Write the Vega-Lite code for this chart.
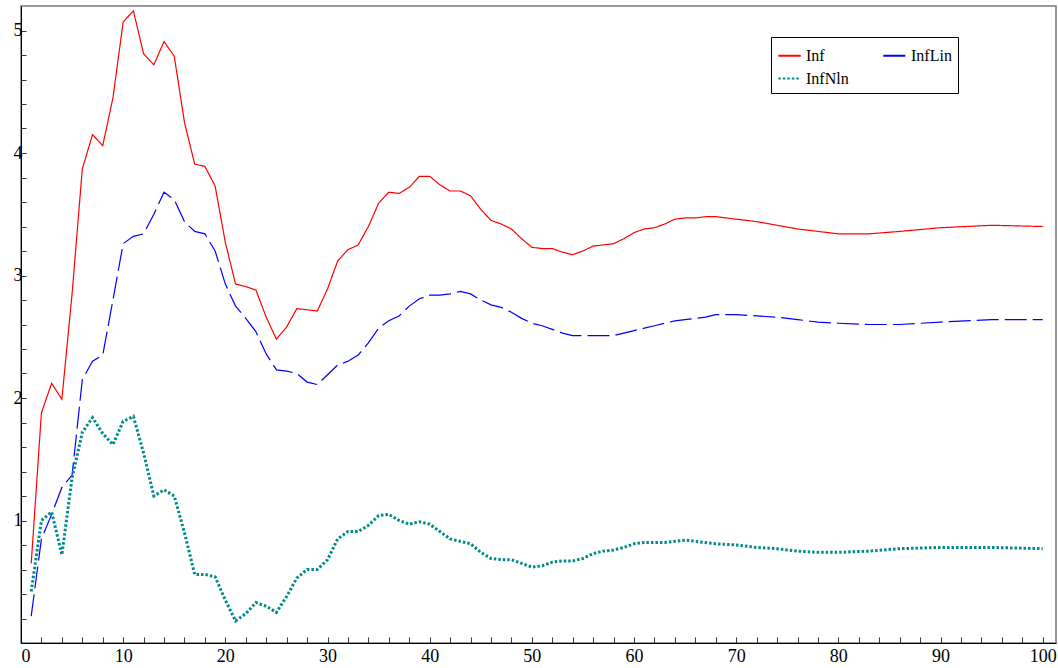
{
  "$schema": "https://vega.github.io/schema/vega-lite/v6.json",
  "width": 1035,
  "height": 637,
  "autosize": "none",
  "padding": {"left": 21, "top": 6, "right": 2, "bottom": 25},
  "background": "white",
  "config": {
    "view": {"stroke": "#777777", "strokeWidth": 1.5},
    "font": "Liberation Serif",
    "axis": {"grid": false, "domainColor": "black", "tickColor": "#333", "labelFont": "Liberation Serif", "labelFontSize": 18, "labelColor": "black", "title": null}
  },
  "data": {
    "values": [
      {"t":1,"Inf":0.65,"InfLin":0.22,"InfNln":0.42},
      {"t":2,"Inf":1.88,"InfLin":0.85,"InfNln":1.0},
      {"t":3,"Inf":2.12,"InfLin":1.05,"InfNln":1.07},
      {"t":4,"Inf":1.99,"InfLin":1.27,"InfNln":0.72},
      {"t":5,"Inf":2.85,"InfLin":1.37,"InfNln":1.35},
      {"t":6,"Inf":3.87,"InfLin":2.15,"InfNln":1.72},
      {"t":7,"Inf":4.15,"InfLin":2.3,"InfNln":1.84},
      {"t":8,"Inf":4.06,"InfLin":2.35,"InfNln":1.71},
      {"t":9,"Inf":4.45,"InfLin":2.8,"InfNln":1.62},
      {"t":10,"Inf":5.07,"InfLin":3.26,"InfNln":1.81},
      {"t":11,"Inf":5.16,"InfLin":3.32,"InfNln":1.85},
      {"t":12,"Inf":4.81,"InfLin":3.34,"InfNln":1.55},
      {"t":13,"Inf":4.72,"InfLin":3.5,"InfNln":1.2},
      {"t":14,"Inf":4.91,"InfLin":3.68,"InfNln":1.25},
      {"t":15,"Inf":4.79,"InfLin":3.62,"InfNln":1.2},
      {"t":16,"Inf":4.25,"InfLin":3.44,"InfNln":0.9},
      {"t":17,"Inf":3.91,"InfLin":3.36,"InfNln":0.56},
      {"t":18,"Inf":3.89,"InfLin":3.34,"InfNln":0.56},
      {"t":19,"Inf":3.73,"InfLin":3.2,"InfNln":0.54},
      {"t":20,"Inf":3.27,"InfLin":2.93,"InfNln":0.35},
      {"t":21,"Inf":2.93,"InfLin":2.75,"InfNln":0.18},
      {"t":22,"Inf":2.91,"InfLin":2.65,"InfNln":0.24},
      {"t":23,"Inf":2.88,"InfLin":2.54,"InfNln":0.33},
      {"t":24,"Inf":2.66,"InfLin":2.36,"InfNln":0.3},
      {"t":25,"Inf":2.48,"InfLin":2.23,"InfNln":0.25},
      {"t":26,"Inf":2.58,"InfLin":2.22,"InfNln":0.38},
      {"t":27,"Inf":2.73,"InfLin":2.2,"InfNln":0.53},
      {"t":28,"Inf":2.72,"InfLin":2.13,"InfNln":0.6},
      {"t":29,"Inf":2.71,"InfLin":2.11,"InfNln":0.6},
      {"t":30,"Inf":2.89,"InfLin":2.19,"InfNln":0.68},
      {"t":31,"Inf":3.12,"InfLin":2.27,"InfNln":0.85},
      {"t":32,"Inf":3.21,"InfLin":2.3,"InfNln":0.91},
      {"t":33,"Inf":3.25,"InfLin":2.35,"InfNln":0.91},
      {"t":34,"Inf":3.4,"InfLin":2.45,"InfNln":0.96},
      {"t":35,"Inf":3.59,"InfLin":2.57,"InfNln":1.04},
      {"t":36,"Inf":3.68,"InfLin":2.63,"InfNln":1.05},
      {"t":37,"Inf":3.67,"InfLin":2.67,"InfNln":1.0},
      {"t":38,"Inf":3.72,"InfLin":2.75,"InfNln":0.97},
      {"t":39,"Inf":3.81,"InfLin":2.81,"InfNln":0.99},
      {"t":40,"Inf":3.81,"InfLin":2.84,"InfNln":0.97},
      {"t":41,"Inf":3.74,"InfLin":2.84,"InfNln":0.91},
      {"t":42,"Inf":3.69,"InfLin":2.85,"InfNln":0.85},
      {"t":43,"Inf":3.69,"InfLin":2.87,"InfNln":0.83},
      {"t":44,"Inf":3.65,"InfLin":2.85,"InfNln":0.81},
      {"t":45,"Inf":3.54,"InfLin":2.8,"InfNln":0.74},
      {"t":46,"Inf":3.45,"InfLin":2.76,"InfNln":0.69},
      {"t":47,"Inf":3.42,"InfLin":2.74,"InfNln":0.68},
      {"t":48,"Inf":3.38,"InfLin":2.7,"InfNln":0.68},
      {"t":49,"Inf":3.3,"InfLin":2.65,"InfNln":0.65},
      {"t":50,"Inf":3.23,"InfLin":2.61,"InfNln":0.62},
      {"t":51,"Inf":3.22,"InfLin":2.59,"InfNln":0.63},
      {"t":52,"Inf":3.22,"InfLin":2.56,"InfNln":0.66},
      {"t":53,"Inf":3.19,"InfLin":2.53,"InfNln":0.67},
      {"t":54,"Inf":3.17,"InfLin":2.51,"InfNln":0.67},
      {"t":55,"Inf":3.2,"InfLin":2.51,"InfNln":0.69},
      {"t":56,"Inf":3.24,"InfLin":2.51,"InfNln":0.73},
      {"t":57,"Inf":3.25,"InfLin":2.51,"InfNln":0.75},
      {"t":58,"Inf":3.26,"InfLin":2.51,"InfNln":0.76},
      {"t":59,"Inf":3.3,"InfLin":2.53,"InfNln":0.78},
      {"t":60,"Inf":3.35,"InfLin":2.55,"InfNln":0.81},
      {"t":61,"Inf":3.38,"InfLin":2.57,"InfNln":0.82},
      {"t":62,"Inf":3.39,"InfLin":2.59,"InfNln":0.82},
      {"t":63,"Inf":3.42,"InfLin":2.61,"InfNln":0.82},
      {"t":64,"Inf":3.46,"InfLin":2.63,"InfNln":0.83},
      {"t":65,"Inf":3.47,"InfLin":2.64,"InfNln":0.84},
      {"t":66,"Inf":3.47,"InfLin":2.65,"InfNln":0.83},
      {"t":67,"Inf":3.48,"InfLin":2.66,"InfNln":0.82},
      {"t":68,"Inf":3.48,"InfLin":2.68,"InfNln":0.81},
      {"t":70,"Inf":3.46,"InfLin":2.68,"InfNln":0.8},
      {"t":72,"Inf":3.44,"InfLin":2.67,"InfNln":0.78},
      {"t":74,"Inf":3.41,"InfLin":2.66,"InfNln":0.77},
      {"t":76,"Inf":3.38,"InfLin":2.64,"InfNln":0.75},
      {"t":78,"Inf":3.36,"InfLin":2.62,"InfNln":0.74},
      {"t":80,"Inf":3.34,"InfLin":2.61,"InfNln":0.74},
      {"t":83,"Inf":3.34,"InfLin":2.6,"InfNln":0.75},
      {"t":86,"Inf":3.36,"InfLin":2.6,"InfNln":0.77},
      {"t":90,"Inf":3.39,"InfLin":2.62,"InfNln":0.78},
      {"t":95,"Inf":3.41,"InfLin":2.64,"InfNln":0.78},
      {"t":100,"Inf":3.4,"InfLin":2.64,"InfNln":0.77}
    ]
  },
  "transform": [{"fold": ["Inf", "InfLin", "InfNln"], "as": ["series", "value"]}],
  "encoding": {
    "x": {"field": "t", "type": "quantitative", "scale": {"domain": [0, 101.3], "nice": false},
      "axis": {"values": [0,2,4,6,8,10,12,14,16,18,20,22,24,26,28,30,32,34,36,38,40,42,44,46,48,50,52,54,56,58,60,62,64,66,68,70,72,74,76,78,80,82,84,86,88,90,92,94,96,98,100],
        "labelExpr": "datum.value % 10 == 0 ? datum.label : ''", "tickSize": -6, "labelPadding": 10}},
    "y": {"field": "value", "type": "quantitative", "scale": {"domain": [0, 5.2], "nice": false},
      "axis": {"values": [0.2,0.4,0.6,0.8,1,1.2,1.4,1.6,1.8,2,2.2,2.4,2.6,2.8,3,3.2,3.4,3.6,3.8,4,4.2,4.4,4.6,4.8,5],
        "labelExpr": "datum.value % 1 == 0 ? format(datum.value, 'd') : ''", "tickSize": -5, "labelPadding": 4}},
    "color": {"field": "series", "type": "nominal",
      "scale": {"domain": ["Inf", "InfLin", "InfNln"], "range": ["#ff0000", "#0000ff", "#008b8b"]},
      "legend": {"title": null, "orient": "none", "legendX": 750, "legendY": 31, "columns": 2, "direction": "horizontal", "columnPadding": 30,
        "symbolType": "stroke", "symbolSize": 500, "symbolStrokeWidth": 2, "labelFontSize": 16, "labelFont": "Liberation Serif",
        "strokeColor": "black", "padding": 6, "fillColor": "white", "rowPadding": 2}},
    "strokeDash": {"field": "series", "type": "nominal",
      "scale": {"domain": ["Inf", "InfLin", "InfNln"], "range": [[1, 0], [22, 6], [2.5, 2]]}, "legend": null}
  },
  "layer": [
    {
      "transform": [{"filter": "datum.series != 'InfNln'"}],
      "mark": {"type": "line", "clip": true, "strokeWidth": 1.2}
    },
    {
      "transform": [{"filter": "datum.series == 'InfNln'"}],
      "mark": {"type": "line", "clip": true, "strokeWidth": 3}
    }
  ]
}
